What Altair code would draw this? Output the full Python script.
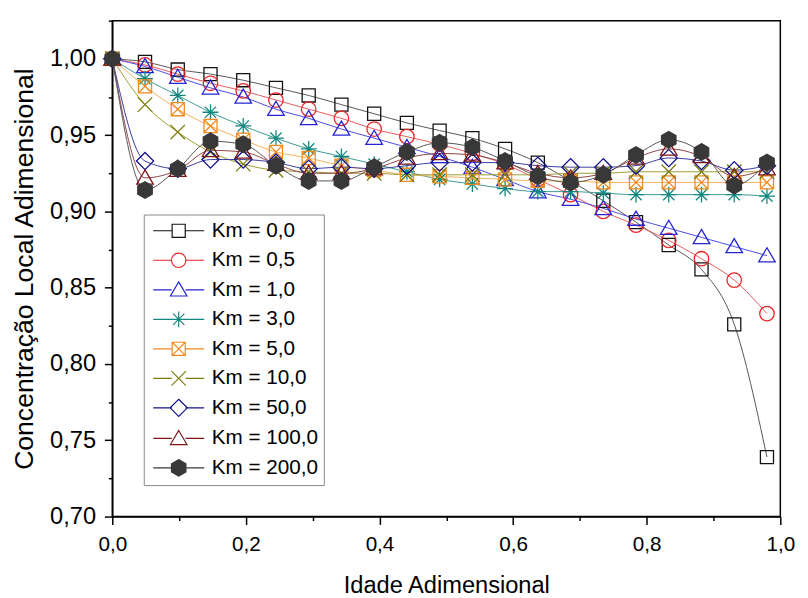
import altair as alt
import pandas as pd

# ---------------- data ----------------
x_vals = [0.0, 0.049, 0.098, 0.147, 0.196, 0.245, 0.294, 0.343, 0.392, 0.441, 0.49,
          0.539, 0.588, 0.637, 0.686, 0.735, 0.784, 0.833, 0.882, 0.931, 0.98]

labels = ["Km = 0,0", "Km = 0,5", "Km = 1,0", "Km = 3,0", "Km = 5,0",
          "Km = 10,0", "Km = 50,0", "Km = 100,0", "Km = 200,0"]

km_0_0 = [1.000, 0.998, 0.993, 0.990, 0.986, 0.981, 0.976, 0.970, 0.964, 0.958, 0.953,
          0.948, 0.941, 0.932, 0.920, 0.907, 0.893, 0.878, 0.862, 0.826, 0.739]
km_0_5 = [1.000, 0.996, 0.990, 0.984, 0.979, 0.973, 0.967, 0.961, 0.954, 0.949, 0.944,
          0.938, 0.931, 0.921, 0.911, 0.900, 0.891, 0.881, 0.869, 0.855, 0.833]
km_1_0 = [1.000, 0.995, 0.988, 0.981, 0.975, 0.967, 0.961, 0.954, 0.948, 0.942, 0.936,
          0.929, 0.921, 0.913, 0.908, 0.902, 0.895, 0.889, 0.883, 0.877, 0.871]
km_3_0 = [1.000, 0.987, 0.976, 0.965, 0.956, 0.948, 0.941, 0.936, 0.931, 0.926, 0.921,
          0.918, 0.915, 0.913, 0.913, 0.912, 0.911, 0.911, 0.911, 0.911, 0.910]
km_5_0 = [1.000, 0.982, 0.967, 0.956, 0.947, 0.939, 0.935, 0.930, 0.927, 0.924, 0.923,
          0.922, 0.921, 0.920, 0.920, 0.919, 0.919, 0.919, 0.919, 0.919, 0.919]
km_10_0 = [1.000, 0.970, 0.952, 0.939, 0.931, 0.927, 0.926, 0.925, 0.925, 0.924, 0.924,
           0.924, 0.924, 0.924, 0.925, 0.925, 0.926, 0.926, 0.926, 0.926, 0.926]
km_50_0 = [1.000, 0.933, 0.928, 0.934, 0.934, 0.932, 0.928, 0.929, 0.928, 0.930, 0.932,
           0.932, 0.932, 0.930, 0.929, 0.929, 0.930, 0.935, 0.933, 0.927, 0.930]
km_100_0 = [1.000, 0.922, 0.927, 0.940, 0.939, 0.931, 0.925, 0.925, 0.928, 0.935, 0.938,
            0.937, 0.932, 0.925, 0.922, 0.925, 0.935, 0.941, 0.936, 0.923, 0.928]
km_200_0 = [1.000, 0.914, 0.928, 0.946, 0.944, 0.930, 0.920, 0.920, 0.929, 0.939, 0.945,
            0.942, 0.933, 0.923, 0.919, 0.924, 0.937, 0.947, 0.939, 0.917, 0.932]

series_values = [km_0_0, km_0_5, km_1_0, km_3_0, km_5_0, km_10_0, km_50_0, km_100_0, km_200_0]

x_ticks = [0.0, 0.1, 0.2, 0.3, 0.4, 0.5, 0.6, 0.7, 0.8, 0.9, 1.0]
y_ticks = [0.70, 0.725, 0.75, 0.775, 0.80, 0.825, 0.85, 0.875, 0.90, 0.925, 0.95, 0.975, 1.00, 1.025]

# ---------------- styles ----------------
marker_colors = ["#111111", "#e8262a", "#2424d4", "#13877f", "#f08a1e",
                 "#7c7c0a", "#12128a", "#7e1414", "#383838"]
line_colors = ["#555555", "#e85a5a", "#4a4ae0", "#3a9a92", "#f2b060",
               "#9a9a30", "#3a3aa0", "#904040", "#555555"]
fills = ["transparent"] * 8 + ["#383838"]

SQ = "M-0.95,-0.95H0.95V0.95H-0.95Z"
CI = "M1.05,0A1.05,1.05 0 1,1 -1.05,0A1.05,1.05 0 1,1 1.05,0Z"
TR = "M0,-1.15L1.2,0.9L-1.2,0.9Z"
AS = "M0,-1.15V1.15M-1.15,0H1.15M-0.82,-0.82L0.82,0.82M-0.82,0.82L0.82,-0.82"
BX = "M-0.95,-0.95H0.95V0.95H-0.95ZM-0.95,-0.95L0.95,0.95M-0.95,0.95L0.95,-0.95"
XX = "M-1.05,-1.05L1.05,1.05M-1.05,1.05L1.05,-1.05"
DI = "M0,-1.25L1.25,0L0,1.25L-1.25,0Z"
HX = "M0,-1.2L1.05,-0.6L1.05,0.6L0,1.2L-1.05,0.6L-1.05,-0.6Z"
shapes = [SQ, CI, TR, AS, BX, XX, DI, TR, HX]
STUB = "M-3.7,0H-1.0M1.0,0H3.7"
legend_shapes = [s + STUB for s in shapes]

rows = []
for k, (lab, vals) in enumerate(zip(labels, series_values)):
    for xv, yv in zip(x_vals, vals):
        rows.append({"x": xv, "y": yv, "series": lab, "k": k})
df = pd.DataFrame(rows)

FONT = "Liberation Sans"
X_MAJOR = "round(datum.value*10)%2==0"
Y_MAJOR = "round(datum.value*40)%2==0"

x_enc = alt.X(
    "x:Q",
    scale=alt.Scale(domain=[0, 1.0], nice=False, zero=False),
    axis=alt.Axis(
        values=x_ticks,
        labelExpr=X_MAJOR + " ? replace(format(datum.value,'.1f'),'.',',') : ''",
        tickSize={"condition": {"test": X_MAJOR, "value": 8}, "value": 4},
        labelFontSize={"condition": {"test": X_MAJOR, "value": 21}, "value": 0},
        tickWidth=1.5, tickColor="black", domainColor="black", domainWidth=1.5,
        grid=False, labelFont=FONT, labelColor="black", labelPadding=9,
        labelFlush=False, labelOverlap=False,
        title="Idade Adimensional", titleFont=FONT, titleFontSize=24, titleFontWeight="normal",
        titleColor="black", titlePadding=20,
    ),
)
y_enc = alt.Y(
    "y:Q",
    scale=alt.Scale(domain=[0.70, 1.025], nice=False, zero=False),
    axis=alt.Axis(
        values=y_ticks,
        labelExpr=Y_MAJOR + " ? replace(format(datum.value,'.2f'),'.',',') : ''",
        tickSize={"condition": {"test": Y_MAJOR, "value": 8}, "value": 4},
        labelFontSize={"condition": {"test": Y_MAJOR, "value": 24}, "value": 0},
        tickWidth=1.5, tickColor="black", domainColor="black", domainWidth=1.5,
        grid=False, labelFont=FONT, labelColor="black", labelPadding=9,
        labelFlush=False, labelOverlap=False,
        title="Concentração Local Adimensional", titleFont=FONT, titleFontSize=27,
        titleFontWeight="normal", titleColor="black", titlePadding=11,
    ),
)

# one line layer and one marker layer per series (fixed colours, no extra scales)
line_layers = []
point_layers = []
for k, lab in enumerate(labels):
    sub = alt.Chart(df).transform_filter(alt.datum.k == k)
    line_layers.append(
        sub.mark_line(interpolate="monotone", strokeWidth=1, color=line_colors[k])
        .encode(x=x_enc, y=y_enc)
    )
    point_layers.append(
        sub.mark_point(shape=shapes[k], size=196, strokeWidth=1.3, opacity=1,
                       stroke=marker_colors[k], fill=fills[k])
        .encode(x=x_enc, y=y_enc)
    )

leg = alt.Legend(
    title=None, orient="bottom-left", offset=32,
    labelFont=FONT, labelFontSize=21, labelColor="black",
    symbolSize=196, symbolStrokeWidth=1.2,
    symbolOffset=19, labelOffset=23, rowPadding=8, padding=6,
    strokeColor="#888888", fillColor="white",
)
# legend-only layer: markers of zero size, so only the legend shows
legend_layer = alt.Chart(df).mark_point(size=0, strokeWidth=1.2, opacity=1).encode(
    x=x_enc, y=y_enc,
    shape=alt.Shape("series:N", scale=alt.Scale(domain=labels, range=legend_shapes), legend=leg),
    stroke=alt.Stroke("series:N", scale=alt.Scale(domain=labels, range=marker_colors), legend=leg),
    fill=alt.Fill("series:N", scale=alt.Scale(domain=labels, range=fills), legend=leg),
)

panel = alt.layer(*line_layers, *point_layers, legend_layer).properties(width=679, height=504)

chart = (
    alt.vconcat(panel)
    .resolve_scale(shape="independent", stroke="independent", fill="independent")
    .resolve_legend(shape="independent", stroke="independent", fill="independent")
    .properties(
        padding={"left": 2, "top": 6, "right": 4, "bottom": 4},
        background="white",
    )
    .configure_view(stroke="black", strokeWidth=1.5)
)

chart.save("out.html", embed_options={"renderer": "svg", "actions": False})
